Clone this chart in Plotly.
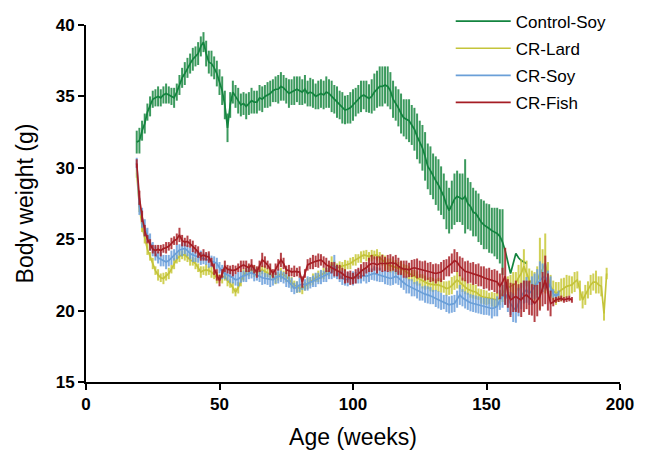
import plotly.graph_objects as go

# ---- data (age in weeks starts at 19, weekly measurements) ----
start_week = 19

control_soy = [
    31.8, 31.9, 32.6, 33.1, 33.9, 34.3, 34.8, 34.9, 35.0, 34.9,
    35.1, 35.2, 35.1, 35.0, 34.9, 35.3, 35.8, 36.3, 36.6, 37.0,
    37.3, 37.6, 37.8, 38.0, 38.5, 38.8, 38.0, 37.4, 37.3, 37.0,
    36.6, 36.0, 35.4, 34.4, 32.8, 34.4, 35.3, 35.0, 34.7, 34.4,
    34.5, 34.3, 34.5, 34.7, 34.6, 34.6, 34.9, 34.8, 35.0, 35.1,
    35.2, 35.4, 35.5, 35.5, 35.7, 35.6, 35.4, 35.2, 35.3, 35.4,
    35.5, 35.4, 35.3, 35.5, 35.2, 35.3, 35.2, 35.0, 35.1, 35.2,
    35.1, 35.3, 35.2, 35.0, 34.8, 34.6, 34.4, 34.2, 34.05, 34.1,
    34.2, 34.4, 34.6, 34.8, 35.0, 35.1, 35.0, 34.85, 35.0, 35.3,
    35.5, 35.7, 35.7, 35.8, 35.7, 35.4, 34.8, 34.5, 34.2, 33.8,
    33.5, 33.4, 33.3, 33.0, 32.7, 32.2, 31.8, 31.4, 30.8, 30.1,
    29.8, 29.4, 29.1, 28.8, 28.4, 28.0, 27.4, 27.0, 27.4, 27.8,
    28.0, 27.9, 27.8, 28.0, 27.5, 27.3, 26.9, 26.8, 26.5, 26.2,
    26.0, 25.9, 25.75, 25.6, 25.5, 25.4, 25.2, 24.8, 24.2, 23.4,
    22.6, 23.3, 24.0, 23.7, 23.5, 23.4, 23.3,
]
control_soy_err = [
    0.8, 0.9, 0.7, 0.7, 0.6, 0.7, 0.6, 0.6, 0.7, 0.6,
    0.6, 0.7, 0.6, 0.6, 0.7, 0.6, 0.7, 0.7, 0.8, 0.7,
    0.7, 0.8, 0.7, 0.8, 0.7, 0.7, 0.9, 0.8, 0.9, 0.8,
    0.9, 0.9, 1.0, 1.0, 1.0, 0.9, 0.8, 0.8, 0.9, 0.8,
    0.8, 0.9, 0.8, 0.9, 0.8, 0.8, 0.9, 0.9, 0.8, 0.9,
    0.9, 0.8, 0.9, 1.0, 1.0, 0.9, 0.9, 1.0, 0.9, 1.0,
    0.9, 1.0, 0.9, 1.0, 0.9, 1.0, 1.0, 0.9, 1.0, 1.0,
    1.0, 1.1, 1.0, 1.1, 1.0, 1.1, 1.0, 1.1, 1.0, 1.0,
    1.1, 1.1, 1.0, 1.0, 1.1, 1.0, 1.1, 1.0, 1.2, 1.3,
    1.3, 1.4, 1.4, 1.3, 1.4, 1.3, 1.3, 1.2, 1.3, 1.4,
    1.3, 1.4, 1.5, 1.4, 1.5, 1.6, 1.5, 1.6, 1.7, 1.6,
    1.7, 1.6, 1.7, 1.8, 1.7, 1.6, 1.7, 1.6, 1.7, 1.8,
    1.8, 1.7, 1.8, 2.6, 1.8, 1.7, 1.7, 1.6, 1.7, 1.6,
    1.7, 1.6, 1.7, 1.6, 1.7, 1.8, 1.9, 2.3, 0.0, 0.0,
    0.0, 0.0, 0.0, 0.0, 0.0, 0.0, 0.0,
]

cr_lard = [
    29.6, 27.3, 25.9, 25.0, 24.3, 23.8, 23.3, 22.8, 22.5, 22.3,
    22.25, 22.4, 22.6, 22.9, 23.3, 23.6, 23.8, 23.9, 23.9, 23.7,
    23.55, 23.45, 23.3, 23.0, 22.7, 22.8, 22.85, 22.8, 22.7, 22.5,
    22.3, 22.25, 22.3, 22.4, 22.1, 21.9, 21.6, 21.3, 21.6, 22.0,
    22.5, 22.7, 22.8, 22.85, 22.75, 22.7, 22.75, 22.85, 22.75, 22.65,
    22.55, 22.4, 22.25, 22.4, 22.6, 22.5, 22.4, 22.2, 21.95, 21.8,
    21.65, 21.55, 21.55, 21.7, 21.9, 22.05, 22.2, 22.3, 22.4, 22.5,
    22.6, 22.7, 22.8, 23.3, 23.1, 23.0, 23.05, 23.1, 23.15, 23.2,
    23.3, 23.45, 23.55, 23.65, 23.75, 23.9, 23.85, 23.8, 23.85, 23.9,
    23.9, 23.7, 23.55, 23.35, 23.25, 23.15, 23.1, 23.05, 23.0, 22.95,
    22.85, 22.7, 22.6, 22.45, 22.35, 22.25, 22.15, 22.05, 21.95, 21.9,
    21.85, 21.8, 21.8, 21.8, 21.75, 21.65, 21.55, 21.6, 21.75, 21.95,
    22.15, 22.0, 21.8, 21.65, 21.5, 21.4, 21.35, 21.3, 21.15, 21.0,
    20.95, 20.9, 20.85, 20.8, 20.75, 20.75, 20.9, 21.2, 21.5, 21.6,
    21.7, 21.8, 21.9, 22.3, 22.6, 23.1, 22.6, 22.15, 21.9, 21.7,
    22.1, 22.6, 22.9, 23.3, 22.4, 21.7, 21.4, 21.2, 21.3, 21.45,
    21.6, 21.7, 21.75, 21.8, 22.0, 22.15, 21.4, 20.75, 21.1, 21.45,
    21.8, 22.0, 22.0, 21.8, 21.7, 19.8, 22.6,
]
cr_lard_err = [
    0.3, 0.4, 0.4, 0.3, 0.4, 0.3, 0.4, 0.3, 0.4, 0.3,
    0.4, 0.3, 0.4, 0.3, 0.4, 0.3, 0.4, 0.3, 0.4, 0.3,
    0.4, 0.3, 0.4, 0.3, 0.4, 0.3, 0.4, 0.3, 0.4, 0.3,
    0.4, 0.3, 0.4, 0.3, 0.4, 0.3, 0.4, 0.3, 0.4, 0.3,
    0.4, 0.3, 0.4, 0.3, 0.4, 0.3, 0.4, 0.3, 0.4, 0.3,
    0.4, 0.3, 0.4, 0.3, 0.4, 0.3, 0.4, 0.3, 0.4, 0.3,
    0.4, 0.3, 0.4, 0.3, 0.4, 0.3, 0.4, 0.3, 0.4, 0.3,
    0.4, 0.3, 0.4, 0.5, 0.4, 0.3, 0.4, 0.3, 0.4, 0.3,
    0.4, 0.3, 0.4, 0.3, 0.4, 0.3, 0.4, 0.3, 0.4, 0.3,
    0.4, 0.4, 0.4, 0.5, 0.4, 0.5, 0.4, 0.5, 0.4, 0.5,
    0.4, 0.5, 0.5, 0.4, 0.5, 0.5, 0.4, 0.5, 0.5, 0.4,
    0.5, 0.5, 0.4, 0.5, 0.5, 0.4, 0.5, 0.5, 0.6, 0.5,
    0.6, 0.5, 0.5, 0.5, 0.4, 0.5, 0.5, 0.5, 0.4, 0.5,
    0.5, 0.5, 0.4, 0.5, 0.5, 0.5, 0.5, 0.6, 0.7, 0.8,
    0.8, 0.9, 0.8, 0.9, 1.0, 1.2, 0.9, 0.8, 0.9, 1.0,
    1.0, 2.5, 1.4, 2.1, 1.0, 0.8, 0.7, 0.8, 0.7, 0.8,
    0.7, 0.8, 0.7, 0.6, 0.7, 0.6, 0.7, 0.6, 0.7, 0.6,
    0.7, 0.6, 0.8, 0.6, 0.7, 0.5, 0.4,
]

cr_soy = [
    30.3, 27.3, 26.5, 25.8, 25.3, 24.8, 24.3, 24.0, 23.7, 23.6,
    23.5, 23.4, 23.5, 23.7, 23.9, 24.1, 24.25, 24.3, 24.35, 24.2,
    24.0, 23.9, 23.8, 23.75, 23.7, 23.65, 23.6, 23.5, 23.45, 23.4,
    23.3, 23.0, 22.7, 22.6, 22.5, 22.45, 22.3, 22.15, 22.2, 22.35,
    22.4, 22.5, 22.6, 22.65, 22.55, 22.5, 22.4, 22.3, 22.25, 22.2,
    22.15, 22.15, 22.3, 22.4, 22.4, 22.3, 22.15, 22.0, 21.8, 21.55,
    21.65, 21.8, 21.85, 21.8, 21.9, 21.95, 22.05, 22.15, 22.25, 22.35,
    22.4, 22.5, 22.6, 22.7, 23.1, 22.7, 22.4, 22.3, 22.15, 22.2,
    22.25, 22.25, 22.3, 22.4, 22.4, 22.45, 22.4, 22.5, 22.55, 22.6,
    22.55, 22.5, 22.4, 22.35, 22.3, 22.25, 22.3, 22.4, 22.3, 22.1,
    21.95, 21.8, 21.7, 21.6, 21.5, 21.45, 21.3, 21.2, 21.15, 21.1,
    21.05, 20.95, 20.85, 20.75, 20.65, 20.6, 20.5, 20.4, 20.45, 20.5,
    20.8, 21.1, 20.9, 20.75, 20.65, 20.55, 20.5, 20.45, 20.4, 20.35,
    20.3, 20.3, 20.25, 20.15, 20.2, 20.3, 20.75, 21.0, 21.2, 20.8,
    20.5, 20.2, 20.05, 20.6, 21.0, 21.3, 21.45, 21.2, 21.4, 21.7,
    21.9, 22.15, 22.3, 22.4, 22.0, 21.7, 21.2, 21.0, 21.2,
]
cr_soy_err = [
    0.4, 0.6, 0.7, 0.6, 0.5, 0.6, 0.5, 0.5, 0.4, 0.5,
    0.4, 0.5, 0.4, 0.5, 0.4, 0.5, 0.4, 0.5, 0.4, 0.4,
    0.4, 0.5, 0.4, 0.4, 0.5, 0.4, 0.4, 0.5, 0.4, 0.4,
    0.4, 0.4, 0.5, 0.4, 0.4, 0.5, 0.4, 0.4, 0.5, 0.4,
    0.4, 0.5, 0.4, 0.4, 0.5, 0.4, 0.4, 0.5, 0.4, 0.4,
    0.5, 0.4, 0.4, 0.5, 0.4, 0.4, 0.5, 0.4, 0.5, 0.4,
    0.4, 0.5, 0.4, 0.4, 0.5, 0.4, 0.4, 0.5, 0.4, 0.5,
    0.4, 0.5, 0.4, 0.5, 0.8, 0.5, 0.4, 0.5, 0.4, 0.5,
    0.4, 0.5, 0.4, 0.5, 0.5, 0.4, 0.5, 0.5, 0.4, 0.5,
    0.5, 0.5, 0.4, 0.5, 0.5, 0.5, 0.5, 0.5, 0.5, 0.5,
    0.5, 0.6, 0.5, 0.6, 0.5, 0.6, 0.6, 0.5, 0.6, 0.6,
    0.6, 0.5, 0.6, 0.6, 0.6, 0.5, 0.6, 0.6, 0.6, 0.6,
    0.6, 0.7, 0.6, 0.6, 0.6, 0.6, 0.6, 0.6, 0.6, 0.6,
    0.6, 0.6, 0.6, 0.7, 0.6, 0.7, 0.7, 0.8, 0.8, 0.9,
    0.8, 1.0, 0.9, 1.0, 0.9, 0.8, 0.9, 0.8, 1.0, 0.9,
    1.0, 1.3, 1.0, 0.9, 0.8, 0.7, 0.3, 0.2, 0.2,
]

cr_fish = [
    30.3, 27.9, 26.6, 25.6, 25.0, 24.6, 24.3, 24.2, 24.3, 24.2,
    24.35, 24.4, 24.5, 24.7, 24.9, 25.0, 25.3, 24.9, 24.8, 24.85,
    24.7, 24.5, 24.3, 24.1, 23.8, 23.9, 23.8, 23.75, 23.4, 22.9,
    22.5, 22.1, 22.6, 23.1, 22.9, 22.85, 22.8, 22.85, 23.0, 23.1,
    23.2, 23.1, 23.0, 23.2, 22.9, 22.7, 23.1, 23.55, 23.4, 23.2,
    22.9, 22.6, 22.9, 23.2, 23.55, 23.3, 22.85, 22.8, 22.7, 22.75,
    22.7, 22.7, 22.0, 22.6, 23.2, 23.3, 23.4, 23.45, 23.5, 23.55,
    23.4, 23.2, 23.1, 23.0, 22.9, 22.8, 22.7, 22.6, 22.4, 22.35,
    22.3, 22.25, 22.4, 22.6, 22.75, 22.9, 23.0, 23.2, 23.3, 23.3,
    23.2, 23.3, 23.3, 23.25, 23.3, 23.35, 23.3, 23.3, 23.1, 23.0,
    22.9, 22.9, 22.85, 22.95, 23.0, 22.95, 22.9, 22.85, 22.8, 22.75,
    22.7, 22.65, 22.6, 22.65, 22.7, 22.85, 23.0, 23.1, 23.3, 23.5,
    23.4, 23.1, 22.9, 22.75, 22.7, 22.65, 22.6, 22.55, 22.5, 22.4,
    22.3, 22.25, 22.2, 22.15, 22.1, 22.0, 21.7, 22.0, 22.4, 21.2,
    20.75, 20.9, 21.0, 20.85, 20.75, 21.0, 21.1, 20.9, 20.75, 20.5,
    20.7, 21.0, 21.5, 22.15, 21.3, 20.5, 20.6, 20.75, 20.8, 20.85,
    20.75, 20.8, 20.85, 20.75,
]
cr_fish_err = [
    0.3, 0.5, 0.4, 0.4, 0.3, 0.4, 0.3, 0.4, 0.3, 0.4,
    0.3, 0.4, 0.3, 0.4, 0.3, 0.4, 0.5, 0.4, 0.3, 0.4,
    0.3, 0.4, 0.3, 0.4, 0.3, 0.4, 0.3, 0.4, 0.3, 0.4,
    0.4, 0.4, 0.3, 0.4, 0.3, 0.3, 0.4, 0.3, 0.3, 0.4,
    0.3, 0.4, 0.3, 0.4, 0.3, 0.4, 0.4, 0.5, 0.4, 0.3,
    0.4, 0.3, 0.4, 0.4, 0.5, 0.4, 0.3, 0.4, 0.3, 0.4,
    0.3, 0.4, 0.4, 0.3, 0.4, 0.4, 0.5, 0.4, 0.5, 0.4,
    0.4, 0.5, 0.4, 0.4, 0.5, 0.4, 0.5, 0.4, 0.5, 0.4,
    0.5, 0.4, 0.5, 0.4, 0.5, 0.5, 0.4, 0.5, 0.6, 0.5,
    0.6, 0.5, 0.6, 0.5, 0.6, 0.6, 0.5, 0.6, 0.6, 0.5,
    0.6, 0.6, 0.5, 0.6, 0.6, 0.7, 0.6, 0.6, 0.7, 0.6,
    0.7, 0.6, 0.7, 0.6, 0.7, 0.7, 0.6, 0.7, 0.7, 0.8,
    0.7, 0.7, 0.8, 0.7, 0.8, 0.7, 0.8, 0.7, 0.8, 0.7,
    0.8, 0.7, 0.8, 0.7, 0.8, 0.8, 0.9, 1.0, 2.0, 1.0,
    1.2, 1.0, 1.1, 1.0, 1.2, 1.1, 1.0, 1.2, 1.1, 1.3,
    1.1, 1.0, 1.2, 1.7, 1.3, 0.9, 0.3, 0.2, 0.2, 0.2,
    0.2, 0.2, 0.2, 0.2,
]

series_names = ["Control-Soy", "CR-Lard", "CR-Soy", "CR-Fish"]
series_values = [control_soy, cr_lard, cr_soy, cr_fish]
series_errors = [control_soy_err, cr_lard_err, cr_soy_err, cr_fish_err]
line_colors = ["#13843f", "#c4c43a", "#6a9fd8", "#a51d24"]
bar_colors = ["rgba(25,135,65,0.85)", "rgba(200,200,55,0.85)",
              "rgba(105,158,218,0.85)", "rgba(168,32,38,0.85)"]

x_ticks = [0, 50, 100, 150, 200]
y_ticks = [15, 20, 25, 30, 35, 40]

fig = go.Figure()
for name, vals, errs, lc, bc in zip(series_names, series_values, series_errors,
                                    line_colors, bar_colors):
    weeks = list(range(start_week, start_week + len(vals)))
    fig.add_trace(go.Scatter(
        x=weeks, y=vals, name=name, mode="lines",
        line=dict(color=lc, width=1.7),
        error_y=dict(type="data", array=errs, visible=True,
                     color=bc, thickness=2.0, width=0),
        legendgroup=name,
    ))

axis_font = dict(family="Liberation Sans, Arial, sans-serif", size=17,
                 color="black", weight="bold")
xtitle_font = dict(family="Liberation Sans, Arial, sans-serif", size=23,
                   color="black")
ytitle_font = dict(family="Liberation Sans, Arial, sans-serif", size=23,
                   color="black")

fig.update_layout(
    width=651, height=453,
    margin=dict(l=78, r=39, t=17, b=79, autoexpand=False),
    plot_bgcolor="white", paper_bgcolor="white",
    showlegend=True,
    legend=dict(x=0.683, y=1.06, xanchor="left", yanchor="top",
                bgcolor="rgba(0,0,0,0)", itemwidth=55,
                font=dict(family="Liberation Sans, Arial, sans-serif",
                          size=17, color="black"),
                tracegroupgap=2),
)
fig.update_xaxes(
    range=[0, 200], tickvals=x_ticks, showgrid=False, zeroline=False,
    showline=True, linecolor="black", linewidth=1.8,
    ticks="outside", ticklen=6, tickwidth=1.8, tickcolor="black",
    tickfont=axis_font,
    title=dict(text="Age (weeks)", font=xtitle_font, standoff=16),
)
fig.update_yaxes(
    range=[15, 40], tickvals=y_ticks, showgrid=False, zeroline=False,
    showline=True, linecolor="black", linewidth=1.8,
    ticks="outside", ticklen=6, tickwidth=1.8, tickcolor="black",
    tickfont=axis_font,
    title=dict(text="Body weight (g)", font=ytitle_font, standoff=16),
)

fig.write_html("out.html")
